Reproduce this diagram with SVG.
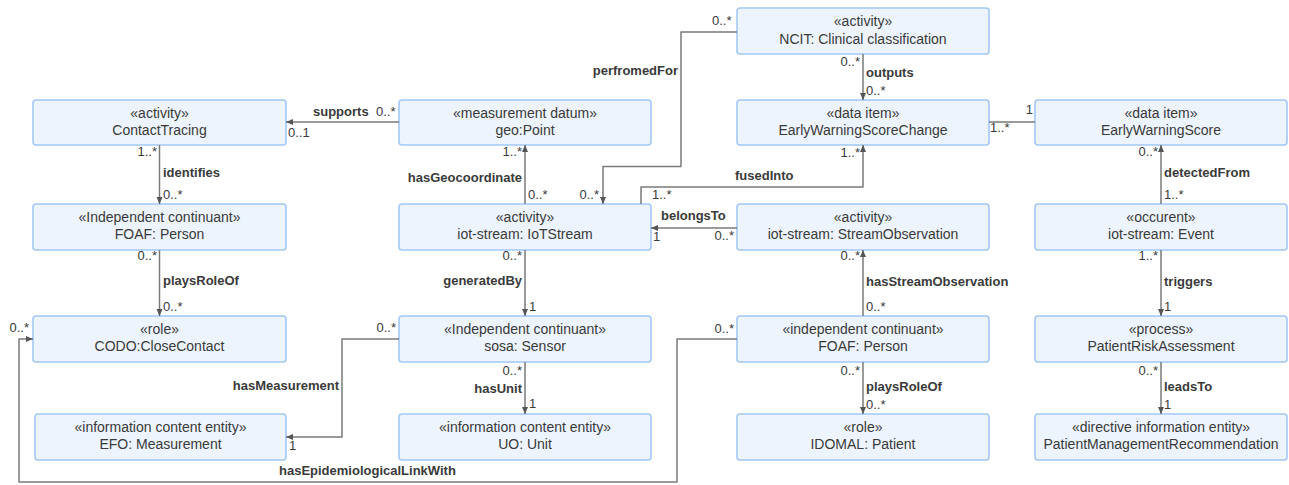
<svg xmlns="http://www.w3.org/2000/svg" width="1289" height="485" viewBox="0 0 1289 485">
  <style>
    .box rect { fill: #edf4fe; stroke: #a3c8f5; stroke-width: 1.6; }
    .box text { font-family: "Liberation Sans", Arial, sans-serif; font-size: 14px; fill: #3a3a3a; text-anchor: middle; }
    .conn path { fill: none; stroke: #7a7a7a; stroke-width: 1.5; stroke-linejoin: round; }
    .lbl { font-family: "Liberation Sans", Arial, sans-serif; font-size: 13px; font-weight: bold; fill: #3a3a3a; }
    .m { font-family: "Liberation Sans", Arial, sans-serif; font-size: 13px; fill: #3a3a3a; }
    .e { text-anchor: end; }
  </style>
  <defs>
    <marker id="arrow" markerUnits="userSpaceOnUse" markerWidth="8" markerHeight="8" refX="7" refY="3.5" orient="auto">
      <path d="M0,0.5 L7,3.5 L0,6.5 z" fill="#555"/>
    </marker>
  </defs>
  <rect width="1289" height="485" fill="#ffffff"/>

  <!-- nodes -->
  <g id="node-ncit" class="box"><rect x="737" y="8" width="252" height="46" rx="3"/><text x="863" y="26">«activity»</text><text x="863" y="44">NCIT: Clinical classification</text></g>

  <g id="node-contacttracing" class="box"><rect x="33" y="100" width="253" height="45" rx="3"/><text x="159.5" y="117.5">«activity»</text><text x="159.5" y="135">ContactTracing</text></g>
  <g id="node-geopoint" class="box"><rect x="399" y="100" width="252" height="45" rx="3"/><text x="525" y="117.5">«measurement datum»</text><text x="525" y="135">geo:Point</text></g>
  <g id="node-ewschange" class="box"><rect x="737" y="100" width="252" height="45" rx="3"/><text x="863" y="117.5">«data item»</text><text x="863" y="135">EarlyWarningScoreChange</text></g>
  <g id="node-ews" class="box"><rect x="1035" y="100" width="252" height="45" rx="3"/><text x="1161" y="117.5">«data item»</text><text x="1161" y="135">EarlyWarningScore</text></g>

  <g id="node-person-left" class="box"><rect x="33" y="204" width="253" height="46" rx="3"/><text x="159.5" y="221.5">«Independent continuant»</text><text x="159.5" y="239">FOAF: Person</text></g>
  <g id="node-iotstream" class="box"><rect x="399" y="204" width="252" height="46" rx="3"/><text x="525" y="221.5">«activity»</text><text x="525" y="239">iot-stream: IoTStream</text></g>
  <g id="node-streamobs" class="box"><rect x="737" y="204" width="252" height="46" rx="3"/><text x="863" y="221.5">«activity»</text><text x="863" y="239">iot-stream: StreamObservation</text></g>
  <g id="node-event" class="box"><rect x="1035" y="204" width="252" height="46" rx="3"/><text x="1161" y="221.5">«occurent»</text><text x="1161" y="239">iot-stream: Event</text></g>

  <g id="node-closecontact" class="box"><rect x="33" y="316" width="253" height="46" rx="3"/><text x="159.5" y="333.5">«role»</text><text x="159.5" y="351">CODO:CloseContact</text></g>
  <g id="node-sensor" class="box"><rect x="399" y="316" width="252" height="46" rx="3"/><text x="525" y="333.5">«Independent continuant»</text><text x="525" y="351">sosa: Sensor</text></g>
  <g id="node-person-right" class="box"><rect x="737" y="316" width="252" height="46" rx="3"/><text x="863" y="333.5">«independent continuant»</text><text x="863" y="351">FOAF: Person</text></g>
  <g id="node-riskassessment" class="box"><rect x="1035" y="316" width="252" height="46" rx="3"/><text x="1161" y="333.5">«process»</text><text x="1161" y="351">PatientRiskAssessment</text></g>

  <g id="node-measurement" class="box"><rect x="35" y="414" width="251" height="46" rx="3"/><text x="160.5" y="431.5">«information content entity»</text><text x="160.5" y="449">EFO: Measurement</text></g>
  <g id="node-unit" class="box"><rect x="399" y="414" width="252" height="46" rx="3"/><text x="525" y="431.5">«information content entity»</text><text x="525" y="449">UO: Unit</text></g>
  <g id="node-patient" class="box"><rect x="737" y="414" width="252" height="46" rx="3"/><text x="863" y="431.5">«role»</text><text x="863" y="449">IDOMAL: Patient</text></g>
  <g id="node-recommendation" class="box"><rect x="1035" y="414" width="252" height="46" rx="3"/><text x="1161" y="431.5">«directive information entity»</text><text x="1161" y="449">PatientManagementRecommendation</text></g>

  <!-- connectors -->
  <g id="connectors" class="conn">
    <path d="M399,122 H286" marker-end="url(#arrow)"/>
    <path d="M159.5,145 V204" marker-end="url(#arrow)"/>
    <path d="M159.5,250 V316" marker-end="url(#arrow)"/>
    <path d="M525,204 V145" marker-end="url(#arrow)"/>
    <path d="M737,32 H681 V166.5 H603 V204" marker-end="url(#arrow)"/>
    <path d="M641,204 V187 H863 V145" marker-end="url(#arrow)"/>
    <path d="M737,228 H651" marker-end="url(#arrow)"/>
    <path d="M863,54 V100" marker-end="url(#arrow)"/>
    <path d="M989,122 H1035"/>
    <path d="M1161,204 V145" marker-end="url(#arrow)"/>
    <path d="M1161,250 V316" marker-end="url(#arrow)"/>
    <path d="M1161,362 V414" marker-end="url(#arrow)"/>
    <path d="M863,316 V250" marker-end="url(#arrow)"/>
    <path d="M863,362 V414" marker-end="url(#arrow)"/>
    <path d="M525,250 V316" marker-end="url(#arrow)"/>
    <path d="M525,362 V414" marker-end="url(#arrow)"/>
    <path d="M399,339 H342 V437 H286" marker-end="url(#arrow)"/>
    <path d="M737,339 H677 V482 H19 V339 H33" marker-end="url(#arrow)"/>

    <!-- labels and multiplicities -->
    <text class="lbl" x="313" y="116">supports</text>
    <text class="m" x="376" y="116">0..*</text>
    <text class="m" x="288" y="137">0..1</text>

    <text class="m e" x="157" y="156">1..*</text>
    <text class="lbl" x="163" y="177">identifies</text>
    <text class="m" x="163" y="199">0..*</text>

    <text class="m e" x="157" y="260">0..*</text>
    <text class="lbl" x="163" y="285">playsRoleOf</text>
    <text class="m" x="163" y="311">0..*</text>

    <text class="m e" x="522" y="156">1..*</text>
    <text class="lbl e" x="522" y="182">hasGeocoordinate</text>
    <text class="m" x="528" y="199">0..*</text>

    <text class="m" x="712" y="25">0..*</text>
    <text class="lbl e" x="678" y="75">perfromedFor</text>
    <text class="m e" x="599" y="199">0..*</text>

    <text class="m" x="652" y="199">1..*</text>
    <text class="lbl" x="735" y="180">fusedInto</text>
    <text class="m e" x="860" y="157">1..*</text>

    <text class="lbl" x="661" y="220">belongsTo</text>
    <text class="m" x="653" y="241">1</text>
    <text class="m e" x="734" y="240">0..*</text>

    <text class="m e" x="860" y="66">0..*</text>
    <text class="lbl" x="866" y="77">outputs</text>
    <text class="m" x="866" y="95">0..*</text>

    <text class="m e" x="1033" y="114">1</text>
    <text class="m" x="990" y="132">1..*</text>

    <text class="m e" x="1158" y="156">0..*</text>
    <text class="lbl" x="1164" y="177">detectedFrom</text>
    <text class="m" x="1164" y="199">1..*</text>

    <text class="m e" x="1158" y="260">1..*</text>
    <text class="lbl" x="1164" y="286">triggers</text>
    <text class="m" x="1164" y="311">1</text>

    <text class="m e" x="1158" y="375">0..*</text>
    <text class="lbl" x="1164" y="391">leadsTo</text>
    <text class="m" x="1164" y="409">1</text>

    <text class="m e" x="860" y="260">0..*</text>
    <text class="lbl" x="866" y="286">hasStreamObservation</text>
    <text class="m" x="866" y="311">0..*</text>

    <text class="m e" x="860" y="375">0..*</text>
    <text class="lbl" x="866" y="391">playsRoleOf</text>
    <text class="m" x="866" y="409">0..*</text>

    <text class="m e" x="522" y="260">0..*</text>
    <text class="lbl e" x="522" y="285">generatedBy</text>
    <text class="m" x="529" y="311">1</text>

    <text class="m e" x="522" y="375">0..*</text>
    <text class="lbl e" x="522" y="393">hasUnit</text>
    <text class="m" x="529" y="408">1</text>

    <text class="m e" x="396" y="332">0..*</text>
    <text class="lbl e" x="339" y="390">hasMeasurement</text>
    <text class="m" x="289" y="450">1</text>

    <text class="m e" x="734" y="333">0..*</text>
    <text class="m e" x="29" y="332">0..*</text>
    <text class="lbl" x="279" y="475">hasEpidemiologicalLinkWith</text>
  </g>
</svg>
